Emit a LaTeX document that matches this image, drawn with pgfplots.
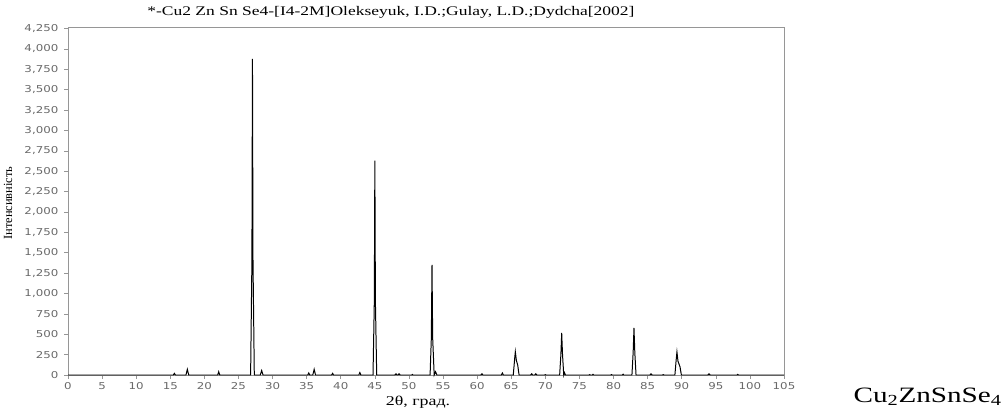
\documentclass[border=0pt]{standalone}
\usepackage{fontspec}
\setmainfont{Liberation Serif}
\newfontfamily\tickfont{DejaVu Sans}
\usepackage{pgfplots}
\pgfplotsset{compat=1.18}
\usepackage{graphicx}
\definecolor{axgray}{RGB}{150,150,150}
\definecolor{tickgray}{RGB}{105,105,105}
% diffraction pattern: 2theta (deg), intensity
\pgfplotstableread{
x y
0 0
15.45 0
15.6 20
15.75 0
17.3 0
17.5 70
17.7 0
21.95 0
22.1 40
22.25 0
26.78 0
26.97 1400
27.05 3880
27.13 1400
27.32 0
28.2 0
28.4 55
28.6 0
35.15 0
35.3 25
35.45 0
35.9 0
36.1 70
36.3 0
38.65 0
38.8 20
38.95 0
42.65 0
42.8 30
42.95 0
44.73 0
44.92 900
45.0 2630
45.08 900
45.27 0
47.95 0
48.1 15
48.25 0
48.4 0
48.55 15
48.7 0
50.4 0
50.5 6
50.6 0
53.1 0
53.28 450
53.38 1350
53.48 450
53.7 0
53.9 40
54.1 0
60.55 0
60.7 15
60.85 0
63.55 0
63.7 25
63.85 0
65.3 0
65.5 200
65.6 285
65.75 180
65.95 120
66.15 0
67.85 0
68.0 15
68.15 0
68.45 0
68.6 15
68.75 0
69.9 0
70.0 5
70.1 0
72.1 0
72.28 250
72.4 516
72.52 250
72.7 0
72.8 30
72.95 0
76.4 0
76.5 5
76.6 0
76.9 0
77.0 8
77.1 0
79.6 0
79.7 5
79.8 0
81.3 0
81.4 10
81.5 0
82.7 0
82.88 280
83.0 577
83.12 280
83.3 0
85.35 0
85.5 15
85.65 0
87.2 0
87.3 5
87.4 0
89.0 0
89.18 180
89.3 283
89.45 170
89.75 100
89.95 0
93.85 0
94.0 15
94.15 0
98.1 0
98.2 8
98.3 0
105 0
}\xrd
\begin{document}
\begin{tikzpicture}
\useasboundingbox (0,0) rectangle (1008bp,413bp);
\begin{axis}[
  at={(68bp,38bp)}, anchor=south west,
  scale only axis, width=716bp, height=348bp,
  xmin=0, xmax=105, ymin=0, ymax=4270,
  xtick={0,5,...,105}, ytick={0,250,...,4250},
  axis line style={axgray, line width=0.6pt},
  tick style={axgray, line width=0.6pt},
  tick align=outside, tick pos=left,
  major tick length=4bp,
  /pgf/number format/.cd, 1000 sep={,}, assume math mode=true,
  /pgfplots/.cd,
  ticklabel style={font=\tickfont\fontsize{9.5}{10}\selectfont, text=tickgray, xscale=1.25},
  yticklabel style={xshift=-1bp},
  title={*-Cu2 Zn Sn Se4-[I4-2M]Olekseyuk, I.D.;Gulay, L.D.;Dydcha[2002]},
  title style={at={(rel axis cs:0.451,1)}, anchor=south, yshift=-1bp, xscale=1.33, font=\fontsize{13.2}{14}\selectfont},
  clip=false,
]
\addplot[black, line width=1pt, line join=miter] table {\xrd};
\end{axis}
\node[rotate=90, font=\fontsize{12.5}{13}\selectfont] at (8bp,210bp) {Інтенсивність};
\node[font=\fontsize{13.5}{14}\selectfont, anchor=base, xscale=1.33] at (418bp,8bp) {2θ, град.};
\node[font=\fontsize{22}{24}\selectfont, anchor=base west, xscale=1.33] at (849bp,11bp) {Cu\textsubscript{2}ZnSnSe\textsubscript{4}};
\end{tikzpicture}
\end{document}
